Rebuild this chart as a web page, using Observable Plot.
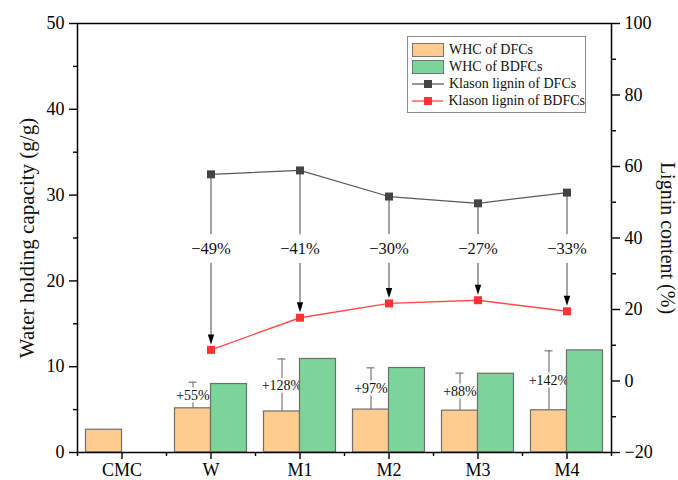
<!DOCTYPE html>
<html>
<head>
<meta charset="utf-8">
<script src="https://cdn.jsdelivr.net/npm/d3@7"></script>
<script src="https://cdn.jsdelivr.net/npm/@observablehq/plot@0.6"></script>
<style>
  body { margin: 0; background: #fff; }
  #chart { position: relative; width: 678px; height: 480px; font-family: "Liberation Serif", "Times New Roman", serif; }
  .legend { position: absolute; left: 407px; top: 36px; width: 179px; height: 77px; box-sizing: border-box;
            border: 1px solid #8a8a8a; background: #fff; padding: 4px 0 0 4px; }
  .item { display: flex; align-items: center; height: 17px; font-size: 14px; color: #111; white-space: nowrap; }
  .sw { display: inline-block; width: 32px; height: 14px; box-sizing: border-box; border: 1px solid #777; margin-right: 5px; }
  .item svg { margin-right: 5px; }
</style>
</head>
<body>
<div id="chart"></div>
<script>
// Sample groups on the category axis
const categories = ["CMC", "W", "M1", "M2", "M3", "M4"];
// Water holding capacity (g/g)
const whcDFC = [2.65, 5.15, 4.78, 5.00, 4.88, 4.92];
const whcDFCError = [0, 3.04, 6.12, 4.87, 4.37, 6.93];
const whcBDFC = [null, 7.98, 10.9, 9.85, 9.18, 11.9];
// Klason lignin content (%)
const ligninCategories = ["W", "M1", "M2", "M3", "M4"];
const ligninDFC = [57.8, 58.9, 51.6, 49.7, 52.7];
const ligninBDFC = [8.7, 17.7, 21.7, 22.6, 19.5];
// Axis ticks
const leftTicks = [0, 10, 20, 30, 40, 50];
const rightTicks = [-20, 0, 20, 40, 60, 80, 100];
const legendNames = ["WHC of DFCs", "WHC of BDFCs", "Klason lignin of DFCs", "Klason lignin of BDFCs"];

const ORANGE = "#ffcc8f", GREEN = "#7dd49b", BAR_STROKE = "#6e6e6e";
const GRAY_LINE = "#5a5a5a", GRAY_DOT = "#444444", RED_LINE = "#ff4a4a", RED_DOT = "#ff3333";
const FONT = "'Liberation Serif', 'Times New Roman', serif";

// The lignin axis (-20..100) is mapped onto the WHC axis (0..50)
const toLeft = v => (v + 20) * 50 / 120;
const fromLeft = y => y * 120 / 50 - 20;
const signed = v => (v < 0 ? "\u2212" : "") + Math.abs(Math.round(v));

const bars = categories.map((c, i) => ({cat: c, dfc: whcDFC[i], err: whcDFCError[i], bdfc: whcBDFC[i]}));
const withErr = bars.filter(d => d.err > 0);
const withB = bars.filter(d => d.bdfc != null);
const lig = ligninCategories.map((c, i) => ({cat: c, dfc: ligninDFC[i], bdfc: ligninBDFC[i]}));

// Height at which the lignin change labels sit (lignin %)
const changeLabelLevel = 37;

// Filled arrowhead sitting just above the target marker
const arrowHead = {
  draw(ctx) {
    ctx.moveTo(0, -5.5);
    ctx.lineTo(-3.2, -15.5);
    ctx.lineTo(3.2, -15.5);
    ctx.closePath();
  }
};

const chart = Plot.plot({
  width: 678,
  height: 480,
  marginLeft: 77,
  marginRight: 67,
  marginTop: 23,
  marginBottom: 28,
  style: {fontFamily: FONT, fontSize: "18px", background: "white", color: "black"},
  x: {domain: categories, padding: 0, label: null},
  y: {domain: [0, 50], label: null},
  marks: [
    Plot.barY(bars, {x: "cat", y: "dfc", fill: ORANGE, stroke: BAR_STROKE, strokeWidth: 1.2, insetLeft: 8.5, insetRight: 44.5}),
    Plot.ruleX(withErr, {x: "cat", y1: "dfc", y2: d => d.dfc + d.err, dx: -18, stroke: "#7a7a7a", strokeWidth: 1.2}),
    Plot.tickY(withErr, {x: "cat", y: d => d.dfc + d.err, dx: -18, insetLeft: 40.5, insetRight: 40.5, stroke: "#7a7a7a", strokeWidth: 1.2}),
    Plot.text(withErr.filter(d => d.bdfc != null), {
      x: "cat", y: d => d.dfc + d.err / 2, dx: -18,
      text: d => "+" + Math.round((d.bdfc - d.dfc) / d.dfc * 100) + "%",
      fontSize: 14, fill: "#111", stroke: "white", strokeWidth: 5
    }),
    Plot.barY(withB, {x: "cat", y: "bdfc", fill: GREEN, stroke: BAR_STROKE, strokeWidth: 1.2, insetLeft: 44.5, insetRight: 8.5}),

    Plot.line(lig, {x: "cat", y: d => toLeft(d.dfc), stroke: GRAY_LINE, strokeWidth: 1.2}),
    Plot.line(lig, {x: "cat", y: d => toLeft(d.bdfc), stroke: RED_LINE, strokeWidth: 1.4}),
    Plot.arrow(lig, {x1: "cat", x2: "cat", y1: d => toLeft(d.dfc), y2: d => toLeft(d.bdfc),
      headLength: 0, insetEnd: 12, stroke: "#666", strokeWidth: 1.2}),
    Plot.dot(lig, {x: "cat", y: d => toLeft(d.bdfc), symbol: arrowHead, fill: "black"}),
    Plot.text(lig, {x: "cat", y: () => toLeft(changeLabelLevel),
      text: d => signed(d.bdfc - d.dfc) + "%", fontSize: 16.5, fill: "#111", stroke: "white", strokeWidth: 18}),
    Plot.dot(lig, {x: "cat", y: d => toLeft(d.dfc), symbol: "square", r: 4.5, fill: GRAY_DOT}),
    Plot.dot(lig, {x: "cat", y: d => toLeft(d.bdfc), symbol: "square", r: 4.5, fill: RED_DOT}),

    Plot.frame({stroke: "black", strokeWidth: 1.5}),
    // left axis
    Plot.axisY(leftTicks, {anchor: "left", tickSize: 8, tickPadding: 5, fontSize: 18, strokeWidth: 1.4, label: null}),
    Plot.axisY(d3.range(5, 50, 10), {anchor: "left", tickSize: 4, tickFormat: () => "", strokeWidth: 1.4, label: null}),
    // right axis (lignin)
    Plot.axisY(rightTicks.map(toLeft), {anchor: "right", tickSize: 8, tickPadding: 5, fontSize: 18, strokeWidth: 1.4,
      tickFormat: d => signed(fromLeft(d)), label: null}),
    Plot.axisY(d3.range(-10, 100, 20).map(toLeft), {anchor: "right", tickSize: 4, tickFormat: () => "", strokeWidth: 1.4, label: null}),
    // bottom axis
    Plot.axisX(categories, {anchor: "bottom", tickSize: 7, tickPadding: 4, fontSize: 18, strokeWidth: 1.4, label: null}),
    Plot.axisX(categories, {anchor: "bottom", tickSize: 4, dx: 44.5, tickFormat: () => "", strokeWidth: 1.4, label: null}),
    Plot.axisX([categories[0]], {anchor: "bottom", tickSize: 4, dx: -44.5, tickFormat: () => "", strokeWidth: 1.4, label: null}),
    // axis titles
    Plot.text(["Water holding capacity (g/g)"], {frameAnchor: "left", textAnchor: "middle", rotate: -90, dx: -50, fontSize: 21, fill: "#111"}),
    Plot.text(["Lignin content (%)"], {frameAnchor: "right", textAnchor: "middle", rotate: 90, dx: 56, fontSize: 20, fill: "#111"})
  ]
});

const root = document.getElementById("chart");
root.appendChild(chart);

// Legend box inside the plot area
const legend = document.createElement("div");
legend.className = "legend";
const swatch = (fill) => `<span class="sw" style="background:${fill}"></span>`;
const lineKey = (stroke, dot) =>
  `<svg width="32" height="12"><line x1="0" x2="32" y1="6" y2="6" stroke="${stroke}" stroke-width="1.3"/>` +
  `<rect x="12" y="2" width="8" height="8" fill="${dot}"/></svg>`;
const keys = [swatch(ORANGE), swatch(GREEN), lineKey(GRAY_LINE, GRAY_DOT), lineKey(RED_LINE, RED_DOT)];
legend.innerHTML = legendNames.map((n, i) => `<div class="item">${keys[i]}<span>${n}</span></div>`).join("");
root.appendChild(legend);
</script>
</body>
</html>
